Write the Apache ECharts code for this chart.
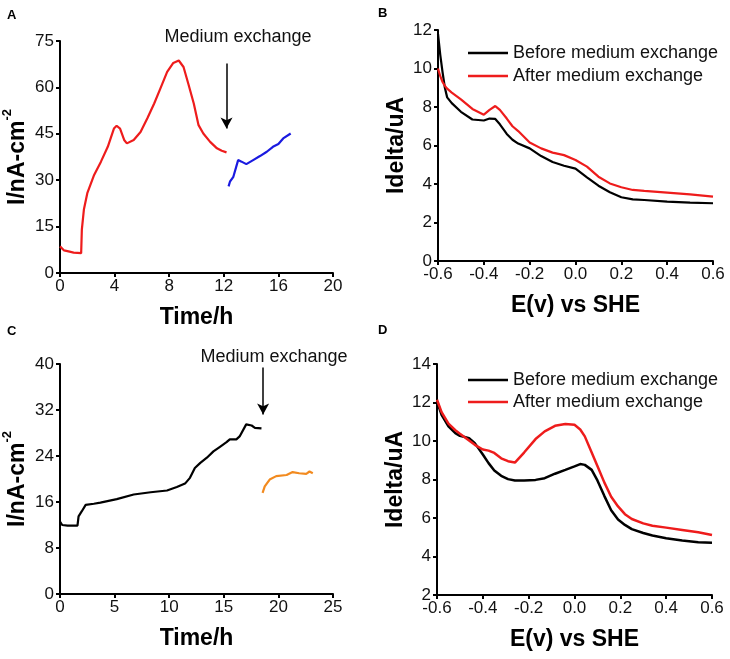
<!DOCTYPE html>
<html>
	<head>
		<meta charset="utf-8">
		<script src="https://cdn.jsdelivr.net/npm/echarts@6/dist/echarts.min.js"></script>
		<title>Medium exchange</title>
	</head>
	<body>
		<style>
			html,
			body,
			#main {
				width: 100%;
				height: 100%;
				margin: 0;
				background: #fff;
			}
		</style>
		<div id="main"></div>
		<script type="text/javascript">
			// 数据 A: 时间-电流
			var aRedT = [0, 0.3, 0.7, 1.0, 1.55, 1.6, 1.75, 2.0, 2.5, 3.0, 3.5, 3.95, 4.15, 4.4, 4.7, 4.9, 5.4, 5.9, 6.4, 6.9, 7.35, 7.85, 8.3, 8.7, 9.05, 9.4, 9.8, 10.15, 10.5, 11.0, 11.5, 11.85, 12.2];
			var aRedI = [8.6, 7.3, 6.9, 6.6, 6.4, 14, 20.5, 25.8, 31.7, 36, 40.8, 46.7, 47.6, 46.7, 43, 41.9, 43, 45.6, 50, 54.8, 59.6, 65, 67.9, 68.7, 66.6, 61.2, 54.8, 47.8, 45.1, 42.4, 40.3, 39.5, 39];
			var aBlueT = [12.35, 12.45, 12.7, 13.05, 13.3, 13.65, 14.15, 14.65, 15.15, 15.6, 16.0, 16.35, 16.9];
			var aBlueI = [28, 29.5, 31.1, 36.5, 36, 35.2, 36.5, 37.8, 39.2, 40.8, 41.7, 43.5, 45.1];

			// 数据 B: 电位-电流
			var eB = [-0.6, -0.59, -0.58, -0.57, -0.56, -0.54, -0.5, -0.45, -0.4, -0.375, -0.35, -0.33, -0.3, -0.275, -0.25, -0.2, -0.15, -0.1, -0.05, 0, 0.05, 0.1, 0.15, 0.2, 0.25, 0.3, 0.4, 0.5, 0.6];
			var bBefore = [11.8, 10.7, 9.8, 9.0, 8.5, 8.2, 7.75, 7.35, 7.3, 7.4, 7.38, 7.1, 6.6, 6.3, 6.1, 5.85, 5.45, 5.14, 4.95, 4.8, 4.35, 3.91, 3.57, 3.31, 3.2, 3.17, 3.08, 3.03, 3.0];
			var bAfter = [10.0, 9.6, 9.3, 9.1, 8.95, 8.75, 8.4, 7.9, 7.6, 7.85, 8.05, 7.85, 7.4, 7.0, 6.75, 6.16, 5.85, 5.63, 5.5, 5.25, 4.9, 4.38, 4.03, 3.83, 3.69, 3.64, 3.55, 3.46, 3.34];

			// 数据 C
			var cBlackT = [0, 0.2, 0.7, 1.6, 1.7, 2.0, 2.35, 3.1, 3.7, 5.2, 6.75, 8.3, 9.8, 10.7, 11.45, 11.9, 12.35, 12.85, 13.45, 14.05, 14.65, 15.25, 15.55, 16.15, 16.45, 17.05, 17.55, 17.85, 18.45];
			var cBlackI = [12.6, 12.0, 11.9, 11.9, 13.5, 14.4, 15.5, 15.7, 15.9, 16.5, 17.3, 17.7, 18.0, 18.6, 19.2, 20.2, 21.9, 22.8, 23.7, 24.8, 25.6, 26.4, 26.9, 26.9, 27.4, 29.5, 29.3, 28.9, 28.8];
			var cOrangeT = [18.55, 18.75, 19.2, 19.8, 20.75, 21.3, 21.9, 22.55, 22.85, 23.15];
			var cOrangeI = [17.6, 18.7, 19.9, 20.5, 20.7, 21.2, 21.0, 20.9, 21.3, 21.0];

			// 数据 D
			var eD = [-0.6, -0.58, -0.55, -0.52, -0.5, -0.46, -0.435, -0.4, -0.375, -0.35, -0.32, -0.29, -0.26, -0.22, -0.17, -0.13, -0.085, -0.04, 0, 0.025, 0.045, 0.075, 0.1, 0.13, 0.16, 0.19, 0.22, 0.25, 0.3, 0.34, 0.4, 0.47, 0.54, 0.6];
			var dBefore = [12.06, 11.36, 10.76, 10.41, 10.27, 10.15, 9.89, 9.3, 8.85, 8.47, 8.19, 8.02, 7.95, 7.95, 7.98, 8.07, 8.3, 8.5, 8.68, 8.8, 8.76, 8.5, 7.95, 7.15, 6.4, 5.92, 5.64, 5.42, 5.22, 5.09, 4.95, 4.83, 4.74, 4.72];
			var dAfter = [12.14, 11.5, 10.9, 10.56, 10.38, 10.03, 9.8, 9.56, 9.5, 9.38, 9.1, 8.95, 8.88, 9.4, 10.1, 10.5, 10.79, 10.88, 10.84, 10.6, 10.24, 9.4, 8.7, 7.85, 7.1, 6.6, 6.2, 5.95, 5.72, 5.6, 5.5, 5.38, 5.26, 5.12];

			var legendNames = ['Before medium exchange', 'After medium exchange'];
			var FONT = 'Liberation Sans, Arial, sans-serif';

			function zip(xs, ys) {
				var out = [];
				for (var i = 0; i < xs.length; i++) {
					out.push([xs[i], ys[i]]);
				}
				return out;
			}

			var myChart = echarts.init(document.getElementById('main'));

			function xAxisOf(idx, min, max, interval, isE) {
				return {
					type: 'value',
					gridIndex: idx,
					min: min,
					max: max,
					interval: interval,
					name: isE ? 'E(v) vs SHE' : 'Time/h',
					nameLocation: 'middle',
					nameGap: 33,
					nameTextStyle: { fontFamily: FONT, fontSize: 23, fontWeight: 'bold', color: '#000' },
					axisLine: { onZero: false, lineStyle: { color: '#000', width: 2 } },
					axisTick: { length: 4, lineStyle: { color: '#000', width: 2 } },
					axisLabel: {
						margin: 5, fontFamily: FONT, fontSize: 17, color: '#111',
						formatter: isE ? function (v) { return v.toFixed(1); } : null
					},
					splitLine: { show: false }
				};
			}

			function yAxisOf(idx, min, max, interval, isI) {
				return {
					type: 'value',
					gridIndex: idx,
					min: min,
					max: max,
					interval: interval,
					name: isI ? '{a|I/nA-cm}{s|-2}' : 'Idelta/uA',
					nameLocation: 'middle',
					nameGap: isI ? 31 : 30,
					nameTextStyle: {
						fontFamily: FONT, fontSize: 23, fontWeight: 'bold', color: '#000',
						rich: {
							a: { fontFamily: FONT, fontSize: 23, fontWeight: 'bold', color: '#000', lineHeight: 28, verticalAlign: 'bottom' },
							s: { fontFamily: FONT, fontSize: 13, fontWeight: 'bold', color: '#000', lineHeight: 28, verticalAlign: 'top' }
						}
					},
					axisLine: { onZero: false, lineStyle: { color: '#000', width: 2 } },
					axisTick: { length: 4, lineStyle: { color: '#000', width: 2 } },
					axisLabel: { margin: 6, fontFamily: FONT, fontSize: 17, color: '#111' },
					splitLine: { show: false }
				};
			}

			function lineOf(name, idx, data, color, width) {
				return {
					name: name,
					type: 'line',
					xAxisIndex: idx,
					yAxisIndex: idx,
					data: data,
					symbol: 'none',
					showSymbol: false,
					animation: false,
					lineStyle: { color: color, width: width || 2 },
					itemStyle: { color: color }
				};
			}

			function arrowOf(x, y0, y1) {
				return {
					silent: true,
					symbol: ['none', 'arrow'],
					symbolSize: [9, 11],
					label: { show: false },
					lineStyle: { color: '#000', width: 1.5, type: 'solid' },
					data: [[{ coord: [x, y0] }, { coord: [x, y1] }]]
				};
			}

			// 图例: 只画一条短线
			function legendOf(top, gap) {
				return {
					data: legendNames,
					orient: 'vertical',
					left: 468,
					top: top,
					padding: 0,
					icon: 'rect',
					itemWidth: 40,
					itemHeight: 2.5,
					itemGap: gap,
					selectedMode: false,
					textStyle: { fontFamily: FONT, fontSize: 18, color: '#111', lineHeight: 18 }
				};
			}

			var redA = lineOf('A', 0, zip(aRedT, aRedI), '#ee1c1c', 2.2);
			redA.markLine = arrowOf(12.2, 67.7, 46.7);
			var blackC = lineOf('C', 2, zip(cBlackT, cBlackI), '#000', 2.2);
			blackC.markLine = arrowOf(18.6, 39.4, 31.2);

			var option = {
				backgroundColor: '#fff',
				animation: false,
				grid: [
					{ left: 59, top: 41, width: 274, height: 232 },
					{ left: 438, top: 30, width: 275, height: 231 },
					{ left: 60, top: 364, width: 273, height: 230 },
					{ left: 437, top: 364, width: 275, height: 231 }
				],
				xAxis: [
					xAxisOf(0, 0, 20, 4, false),
					xAxisOf(1, -0.6, 0.6, 0.2, true),
					xAxisOf(2, 0, 25, 5, false),
					xAxisOf(3, -0.6, 0.6, 0.2, true)
				],
				yAxis: [
					yAxisOf(0, 0, 75, 15, true),
					yAxisOf(1, 0, 12, 2, false),
					yAxisOf(2, 0, 40, 8, true),
					yAxisOf(3, 2, 14, 2, false)
				],
				legend: [legendOf(44, 5), legendOf(371, 4)],
				graphic: [
					{ type: 'text', left: 7, top: 9, style: { text: 'A', font: 'bold 13px ' + FONT, fill: '#000' } },
					{ type: 'text', left: 378, top: 7, style: { text: 'B', font: 'bold 13px ' + FONT, fill: '#000' } },
					{ type: 'text', left: 7, top: 325, style: { text: 'C', font: 'bold 13px ' + FONT, fill: '#000' } },
					{ type: 'text', left: 378, top: 324, style: { text: 'D', font: 'bold 13px ' + FONT, fill: '#000' } },
					{ type: 'text', x: 238, y: 37, style: { text: 'Medium exchange', font: '18px ' + FONT, fill: '#111', align: 'center', verticalAlign: 'middle' } },
					{ type: 'text', x: 274, y: 357, style: { text: 'Medium exchange', font: '18px ' + FONT, fill: '#111', align: 'center', verticalAlign: 'middle' } }
				],
				series: [
					redA,
					lineOf('A2', 0, zip(aBlueT, aBlueI), '#1a1ae0', 2.2),
					lineOf(legendNames[0], 1, zip(eB, bBefore), '#000', 2.2),
					lineOf(legendNames[1], 1, zip(eB, bAfter), '#ee1c1c', 2.2),
					blackC,
					lineOf('C2', 2, zip(cOrangeT, cOrangeI), '#f28a1f', 2.2),
					lineOf(legendNames[0], 3, zip(eD, dBefore), '#000', 2.5),
					lineOf(legendNames[1], 3, zip(eD, dAfter), '#ee1c1c', 2.5)
				]
			};

			myChart.setOption(option);

			window.onresize = function() {
				myChart.resize();
			}
		</script>
	</body>
</html>
